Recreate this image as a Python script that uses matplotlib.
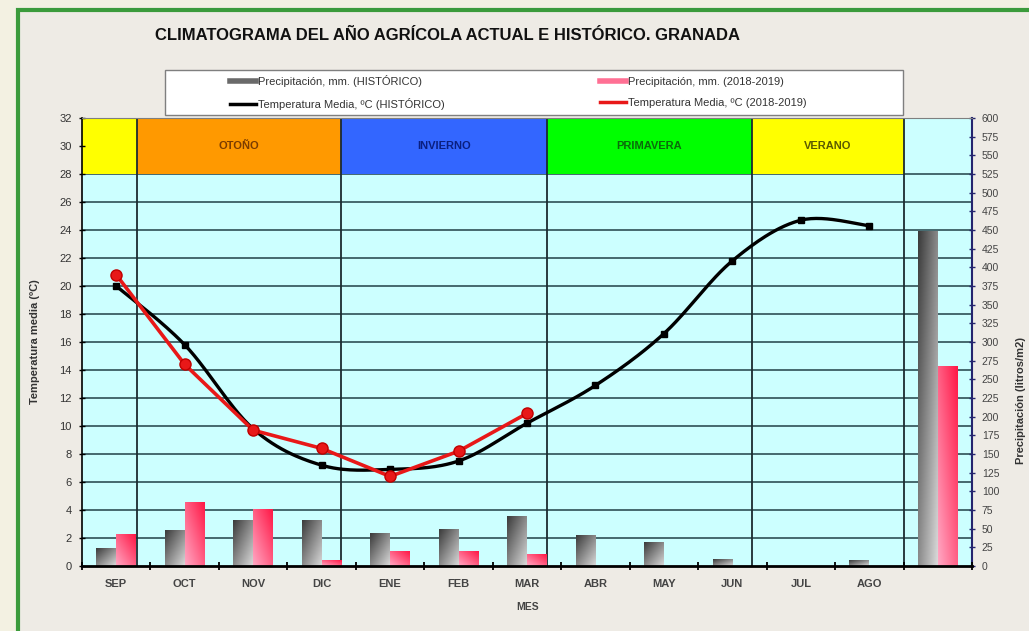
import numpy as np
import matplotlib
matplotlib.use('Agg')
import matplotlib.pyplot as plt
from matplotlib.patches import Rectangle
from matplotlib.lines import Line2D
from matplotlib.colors import to_rgb

plt.rcParams['font.family'] = ['Liberation Sans', 'DejaVu Sans']

meses = ['SEP', 'OCT', 'NOV', 'DIC', 'ENE', 'FEB', 'MAR', 'ABR', 'MAY', 'JUN', 'JUL', 'AGO', '']
temp_hist = [20.0, 15.8, 9.8, 7.2, 6.9, 7.5, 10.2, 12.9, 16.6, 21.8, 24.7, 24.3]
temp_act = [20.8, 14.4, 9.7, 8.4, 6.4, 8.2, 10.9]
# ultimo valor = total del año
prec_hist = [24, 48, 61, 61, 44, 49, 66, 41, 31, 9, 0, 7, 448]
prec_act = [42, 85, 75, 7, 19, 20, 16, 0, 0, 0, 0, 0, 267]

estaciones = ['', 'OTOÑO', 'INVIERNO', 'PRIMAVERA', 'VERANO']
limites_est = [-0.5, 0.3, 3.28, 6.29, 9.28, 11.5]
colores_est = ['#ffff00', '#ff9900', '#3366ff', '#00ff00', '#ffff00']
texto_est = ['#000000', '#7a3c00', '#0a1f80', '#0b6b0b', '#5a5a00']


def suavizar(x, y, n=30):
    # curva suavizada tipo excel (bezier con tangentes catmull-rom)
    p = np.column_stack([x, y]).astype(float)
    pp = np.vstack([p[0], p, p[-1]])
    out = []
    for i in range(len(p) - 1):
        p0, p1, p2, p3 = pp[i], pp[i + 1], pp[i + 2], pp[i + 3]
        c1 = p1 + (p2 - p0) / 6
        c2 = p2 - (p3 - p1) / 6
        t = np.linspace(0, 1, n)[:, None]
        seg = (1 - t) ** 3 * p1 + 3 * (1 - t) ** 2 * t * c1 + 3 * (1 - t) * t ** 2 * c2 + t ** 3 * p2
        out.append(seg)
    out = np.vstack(out)
    return out[:, 0], out[:, 1]


def degradado(ax, barras, c_a, c_b, invertir=False):
    u = np.linspace(0, 1, 64)
    U, V = np.meshgrid(u, u)
    t = ((1 - U) + V) / 2 if invertir else (U + V) / 2
    ca, cb = np.array(to_rgb(c_a)), np.array(to_rgb(c_b))
    img = ca + t[..., None] * (cb - ca)
    for b in barras:
        h = b.get_height()
        if h <= 0:
            continue
        x0, w = b.get_x(), b.get_width()
        ax.imshow(img, extent=[x0, x0 + w, 0, h], aspect='auto', origin='upper',
                  interpolation='bilinear', zorder=2)


fig = plt.figure(figsize=(10.29, 6.31), dpi=100)
fig.patch.set_facecolor('#f3f1e2')
fig.patches.append(Rectangle((0.0175, -0.05), 1.1, 1.034, transform=fig.transFigure,
                             facecolor='#eeebe5', edgecolor='#3b9b3b', lw=3, zorder=-1))

ax = fig.add_axes([0.0797, 0.1030, 0.8649, 0.7100])
ax2 = ax.twinx()
ax.set_zorder(ax2.get_zorder() + 1)
ax.patch.set_visible(False)
ax2.patch.set_visible(True)
ax2.set_facecolor('#ccffff')

x = np.arange(len(meses))

# rejilla horizontal segun el eje de temperatura
for v in np.arange(2, 30, 2):
    ax2.add_line(Line2D([-0.5, 12.5], [v, v], transform=ax.transData,
                        color='#2e4f55', lw=1.2, zorder=0.5))

# bandas de estaciones
for i in range(len(estaciones)):
    x0, x1 = limites_est[i], limites_est[i + 1]
    ax2.add_patch(Rectangle((x0, 28), x1 - x0, 4, transform=ax.transData,
                            facecolor=colores_est[i], edgecolor='none', zorder=1))
    if estaciones[i]:
        ax.text((x0 + x1) / 2, 30, estaciones[i], ha='center', va='center',
                fontsize=8, fontweight='bold', color=texto_est[i])
for xl in limites_est[1:]:
    ax2.add_line(Line2D([xl, xl], [0, 32], transform=ax.transData,
                        color='#1c2b30', lw=1.3, zorder=1.5))

# barras de precipitacion
w = 0.29
b1 = ax2.bar(x - w / 2, prec_hist, w, facecolor='none', edgecolor='none')
b2 = ax2.bar(x + w / 2, prec_act, w, facecolor='none', edgecolor='none')
degradado(ax2, b1, '#3a3a3a', '#dadada')
degradado(ax2, b2, '#ff1745', '#ffa8c4', invertir=True)

# temperaturas
xs, ys = suavizar(x[:len(temp_hist)], temp_hist)
ax.plot(xs, ys, color='black', lw=2.4, zorder=3)
ax.plot(x[:len(temp_hist)], temp_hist, 's', color='black', ms=4, zorder=4)
ax.plot(x[:len(temp_act)], temp_act, '-o', color='#e81818', mec='#c00000', lw=2.6, ms=8, zorder=5)

ax.set_xlim(-0.5, 12.5)
ax.set_ylim(0, 32)
ax2.set_ylim(0, 600)
ax.set_yticks(np.arange(0, 33, 2))
ax2.set_yticks(np.arange(0, 601, 25))
ax.set_xticks(np.arange(-0.5, 13, 1))
ax.set_xticklabels([])
ax.set_xticks(x, minor=True)
ax.set_xticklabels(meses, minor=True)

ax.tick_params(axis='y', direction='inout', length=5, width=1, labelsize=8, labelcolor='#333333', pad=5)
ax.tick_params(axis='x', which='major', direction='inout', length=6, width=1.3)
ax.tick_params(axis='x', which='minor', length=0, pad=9, labelsize=8, labelcolor='#444444')
for t in ax.get_xticklabels(minor=True):
    t.set_fontweight('bold')
ax2.tick_params(axis='y', direction='inout', length=4, width=1, color='#24246e',
                labelsize=7.5, labelcolor='#444444', pad=5)

ax.spines['left'].set_linewidth(1.2)
ax.spines['bottom'].set_linewidth(2)
ax.spines['top'].set_color('#7f7f7f')
ax.spines['right'].set_visible(False)
for s in ['left', 'bottom', 'top']:
    ax2.spines[s].set_visible(False)
ax2.spines['right'].set_color('#24246e')
ax2.spines['right'].set_linewidth(1.5)

ax.set_ylabel('Temperatura media (ºC)', fontsize=8, fontweight='bold', color='#333333')
ax.yaxis.set_label_coords(-0.047, 0.5)
ax2.set_ylabel('Precipitación (litros/m2)', fontsize=8, fontweight='bold', color='#333333')
ax2.yaxis.set_label_coords(1.05, 0.37)

fig.text(0.5125, 0.038, 'MES', ha='center', va='center', fontsize=7.5,
         fontweight='bold', color='#444444')
fig.text(0.1506, 0.9445, 'CLIMATOGRAMA DEL AÑO AGRÍCOLA ACTUAL E HISTÓRICO. GRANADA',
         ha='left', va='center', fontsize=12, fontweight='bold', color='#111111')

# leyenda
fig.patches.append(Rectangle((165 / 1029, 1 - 115 / 631), 738 / 1029, 45 / 631,
                             transform=fig.transFigure, facecolor='white',
                             edgecolor='#7f7f7f', lw=1, zorder=1))
handles = [Line2D([], [], color='#6a6a6a', lw=4),
           Line2D([], [], color='black', lw=2.5),
           Line2D([], [], color='#ff7094', lw=4),
           Line2D([], [], color='#e81818', lw=2.5)]
labels = ['Precipitación, mm. (HISTÓRICO)', 'Temperatura Media, ºC (HISTÓRICO)',
          'Precipitación, mm. (2018-2019)', 'Temperatura Media, ºC (2018-2019)']
leg = fig.legend(handles, labels, ncol=2, loc='center', bbox_to_anchor=(0.504, 0.853),
                 frameon=False, fontsize=8, handlelength=2.3, handletextpad=0.2,
                 columnspacing=14, labelspacing=1.0)
for t in leg.get_texts():
    t.set_color('#333333')
leg.set_zorder(5)

fig.savefig('out.png', dpi=100, facecolor=fig.get_facecolor())
